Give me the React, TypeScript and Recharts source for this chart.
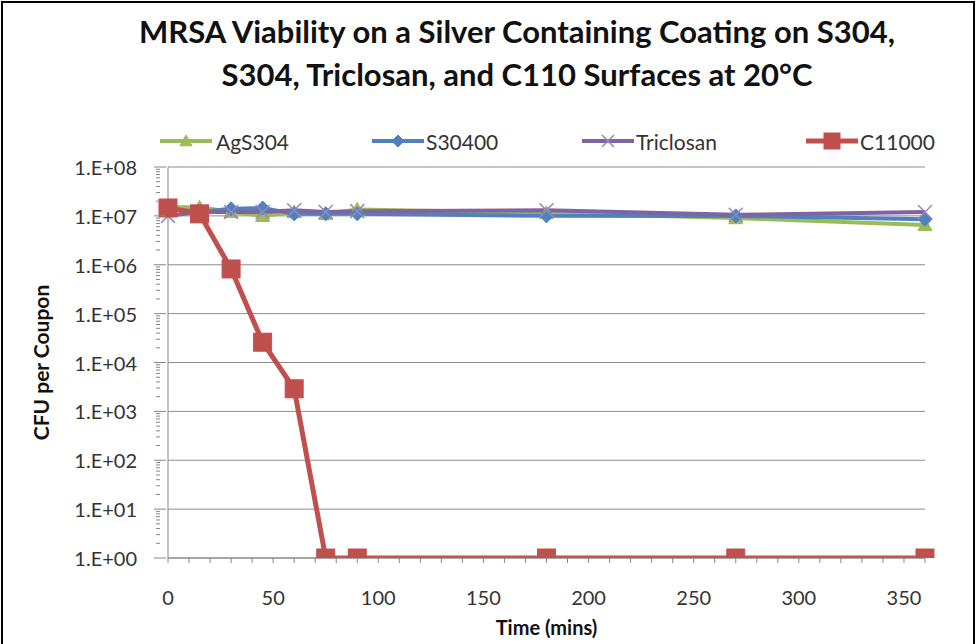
import React from 'react';
import { LineChart, Line, XAxis, YAxis, ReferenceLine } from 'recharts';

const timeMins = [0, 15, 30, 45, 60, 75, 90, 180, 270, 360];
const agS304 = [1.5e7, 1.5e7, 1.2e7, 1.0e7, 1.2e7, 1.1e7, 1.35e7, 1.15e7, 9e6, 6.5e6];
const s30400 = [1.4e7, 1.2e7, 1.4e7, 1.45e7, 1.1e7, 1.1e7, 1.1e7, 1.0e7, 1.0e7, 8.5e6];
const triclosan = [1.0e7, 1.2e7, 1.2e7, 1.2e7, 1.3e7, 1.2e7, 1.25e7, 1.3e7, 1.05e7, 1.2e7];
const c11000 = [1.45e7, 1.1e7, 8.2e5, 2.6e4, 2.9e3, 1, 1, 1, 1, 1];

const xMinorTicks = Array.from({ length: 37 }, (_, i) => i * 10);
const decades = [1, 1e1, 1e2, 1e3, 1e4, 1e5, 1e6, 1e7, 1e8];
const yTicks: number[] = [];
decades.forEach((d, i) => {
  yTicks.push(d);
  if (i < decades.length - 1) for (let m = 2; m <= 9; m++) yTicks.push(d * m);
});

const titleLines = [
  'MRSA Viability on a Silver Containing Coating on S304,',
  'S304, Triclosan, and C110 Surfaces at 20\u00B0C',
];

const data = timeMins.map((t, i) => ({
  t,
  AgS304: agS304[i],
  S30400: s30400[i],
  Triclosan: triclosan[i],
  C11000: c11000[i],
}));

const FONT = 'Lato, "Open Sans", sans-serif';

type Shape = 'triangle' | 'diamond' | 'x' | 'square';
const series: { key: string; color: string; shape: Shape; width: number; size: number }[] = [
  { key: 'AgS304', color: '#9BBB59', shape: 'triangle', width: 4, size: 14 },
  { key: 'S30400', color: '#4F81BD', shape: 'diamond', width: 4, size: 14 },
  { key: 'Triclosan', color: '#8064A2', shape: 'x', width: 4, size: 14 },
  { key: 'C11000', color: '#C0504D', shape: 'square', width: 5, size: 18 },
];

function Marker({ cx, cy, shape, color, size }: any) {
  if (cx == null || cy == null || isNaN(cx) || isNaN(cy)) return null;
  const h = size / 2;
  if (shape === 'square')
    return <rect x={cx - h} y={cy - h} width={size} height={size} fill={color} stroke={color} />;
  if (shape === 'diamond')
    return <polygon points={`${cx},${cy - h} ${cx + h},${cy} ${cx},${cy + h} ${cx - h},${cy}`} fill={color} stroke={color} />;
  if (shape === 'triangle')
    return <polygon points={`${cx},${cy - h} ${cx + h},${cy + h * 0.8} ${cx - h},${cy + h * 0.8}`} fill={color} stroke={color} />;
  return (
    <g stroke="#9A84BC" strokeWidth={1.5}>
      <line x1={cx - h} y1={cy - h} x2={cx + h} y2={cy + h} />
      <line x1={cx - h} y1={cy + h} x2={cx + h} y2={cy - h} />
    </g>
  );
}

const expLabel = (v: number) => {
  const e = Math.round(Math.log10(v));
  return `1.E+${String(e).padStart(2, '0')}`;
};

function YTick(props: any) {
  const { x, y, payload } = props;
  const v = payload.value;
  const e = Math.log10(v);
  const isMajor = Math.abs(e - Math.round(e)) < 1e-9;
  if (isMajor) {
    return (
      <g>
        <line x1={x - 6} x2={x + 6} y1={y} y2={y} stroke="#868686" strokeWidth={1} />
        <text x={x - 23} y={y} textAnchor="end" dominantBaseline="central" fontSize={20} fill="#333" fontFamily={FONT}>
          {expLabel(v)}
        </text>
      </g>
    );
  }
  return <line x1={x - 4} x2={x} y1={y} y2={y} stroke="#868686" strokeWidth={1} />;
}

function XTick(props: any) {
  const { x, y, payload } = props;
  const v = payload.value;
  return (
    <g>
      <line x1={x} x2={x} y1={y - 8} y2={y - 3} stroke="#868686" strokeWidth={1} />
      {v % 50 === 0 ? (
        <text x={x} y={y + 31} textAnchor="middle" dominantBaseline="central" fontSize={20} fill="#333" fontFamily={FONT}>
          {v}
        </text>
      ) : null}
    </g>
  );
}

const legendPos = [
  { lineX: 160, textX: 216 },
  { lineX: 372, textX: 426 },
  { lineX: 582, textX: 636 },
  { lineX: 806, textX: 860 },
];

export default function App() {
  return (
    <div
      style={{
        position: 'absolute',
        left: 0,
        top: 0,
        width: 978,
        height: 644,
        overflow: 'hidden',
        background: '#fff',
        fontFamily: FONT,
      }}
    >
      <div
        style={{
          position: 'absolute',
          left: 1,
          top: 1,
          width: 974,
          height: 700,
          border: '2px solid #000',
          boxSizing: 'border-box',
        }}
      />
      {titleLines.map((t, i) => (
        <div
          key={i}
          style={{
            position: 'absolute',
            left: 0,
            width: 1034,
            top: 12 + i * 43,
            textAlign: 'center',
            fontSize: 31,
            fontWeight: 700,
            color: '#111',
            whiteSpace: 'nowrap',
            lineHeight: '38px',
          }}
        >
          {t}
        </div>
      ))}
      <svg style={{ position: 'absolute', left: 0, top: 0 }} width={978} height={170}>
        {series.map((s, i) => {
          const p = legendPos[i];
          return (
            <g key={s.key}>
              <line x1={p.lineX} x2={p.lineX + 52} y1={141} y2={141} stroke={s.color} strokeWidth={s.width} />
              <Marker cx={p.lineX + 26} cy={141} shape={s.shape} color={s.color} size={s.size - 2} />
              <text x={p.textX} y={141} dominantBaseline="central" fontSize={21} fill="#333" fontFamily={FONT}>
                {s.key}
              </text>
            </g>
          );
        })}
      </svg>
      <div style={{ position: 'absolute', left: 0, top: 0 }}>
        <LineChart
          width={978}
          height={644}
          data={data}
          margin={{ top: 167, right: 53, left: 0, bottom: 0 }}
        >
          {decades.map((d) => (
            <ReferenceLine key={d} y={d} stroke="#8c8c8c" strokeWidth={1} ifOverflow="extendDomain" />
          ))}
          <XAxis
            dataKey="t"
            type="number"
            domain={[0, 360]}
            ticks={xMinorTicks}
            interval={0}
            tick={<XTick />}
            tickLine={false}
            axisLine={{ stroke: '#868686' }}
            height={86}
            label={{
              value: 'Time (mins)',
              position: 'insideBottom',
              offset: 9,
              style: { fontSize: 20, fontWeight: 700, fill: '#111', fontFamily: FONT },
            }}
          />
          <YAxis
            type="number"
            scale="log"
            domain={[1, 1e8]}
            ticks={yTicks}
            interval={0}
            tick={<YTick />}
            tickLine={false}
            axisLine={{ stroke: '#868686' }}
            width={168}
            allowDataOverflow
            label={{
              value: 'CFU per Coupon',
              angle: -90,
              position: 'insideLeft',
              offset: 42,
              style: { textAnchor: 'middle', fontSize: 21, fontWeight: 700, fill: '#111', fontFamily: FONT },
            }}
          />
          {series.map((s) => (
            <Line
              key={s.key}
              dataKey={s.key}
              type="linear"
              stroke={s.color}
              strokeWidth={s.width}
              isAnimationActive={false}
              dot={(p: any) => <Marker key={`${s.key}-${p.index}`} cx={p.cx} cy={p.cy} shape={s.shape} color={s.color} size={s.size} />}
              activeDot={false}
            />
          ))}
        </LineChart>
      </div>
    </div>
  );
}
